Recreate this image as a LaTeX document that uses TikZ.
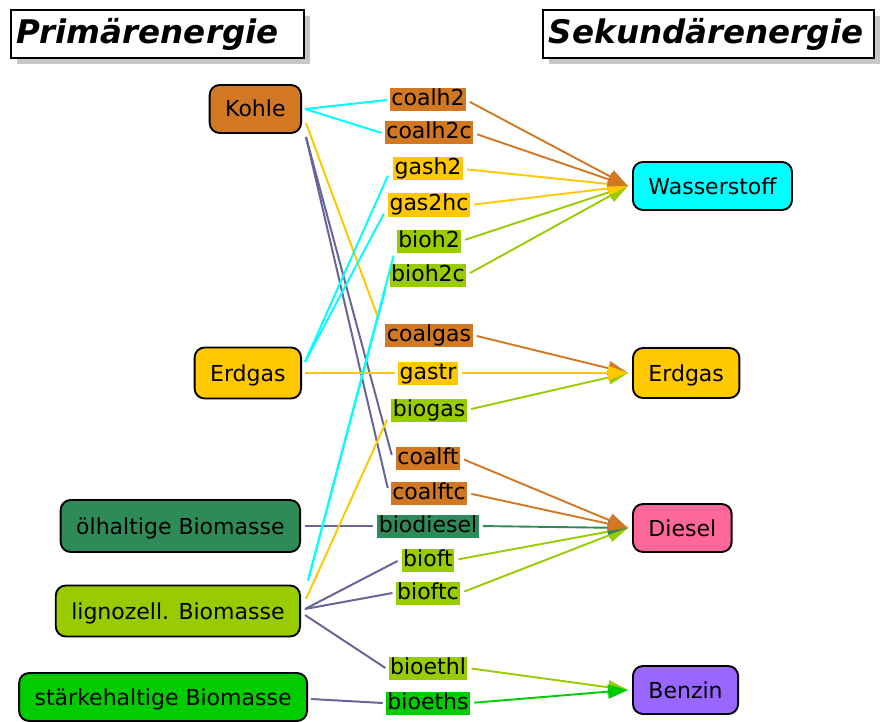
\documentclass[tikz,border=0pt]{standalone}
\usepackage{fontspec}
\setmainfont{DejaVu Sans}
\usetikzlibrary{arrows.meta,shadows}

% carrier colours
\definecolor{coal}{RGB}{210,119,34}
\definecolor{gas}{RGB}{255,200,0}
\definecolor{ligno}{RGB}{153,204,0}
\definecolor{oil}{RGB}{46,139,87}
\definecolor{starch}{RGB}{0,204,0}
\definecolor{hydro}{RGB}{0,255,255}
\definecolor{diesel}{RGB}{255,102,153}
\definecolor{petrol}{RGB}{153,102,255}
\definecolor{liquid}{RGB}{102,102,153}

\begin{document}
\begin{tikzpicture}[x=1pt,y=-1pt,
  carrier/.style={draw=black, line width=1.9pt, rounded corners=10pt,
    inner xsep=15.5pt, text height=18pt, text depth=2pt, minimum height=48pt,
    font=\fontsize{22}{26}\selectfont},
  proc/.style={inner xsep=1.5pt, inner ysep=1pt, text height=16.5pt, text depth=4.5pt,
    font=\fontsize{22}{26}\selectfont},
  feed/.style={line width=2pt},
  conv/.style={line width=1.9pt, shorten <=4pt, -{Triangle[length=20pt,width=14pt]}},
  heading/.style={draw=black, line width=1.9pt, fill=white, anchor=north west,
    font=\bfseries\itshape\fontsize{32.5}{38}\selectfont, minimum height=48pt,
    inner xsep=6pt, align=left, text height=23pt, text depth=4pt,
    drop shadow={shadow xshift=6pt, shadow yshift=-6pt, fill=black!22, opacity=1}}]

\useasboundingbox (0,0) rectangle (880,722);

% headings
\node[heading, text width=281pt] (hprim) at (10,9) {Primärenergie};
\node[heading, text width=319pt] (hsek) at (542,9) {Sekundärenergie};

% primary energy carriers
\node[carrier, fill=coal, anchor=east] (kohle) at (302,109) {Kohle};
\node[carrier, fill=gas, anchor=east, minimum height=51pt] (erdgasP) at (302,373) {Erdgas};
\node[carrier, fill=oil, anchor=east, minimum height=52pt] (oelbio) at (301,526) {ölhaltige Biomasse};
\node[carrier, fill=ligno, anchor=east, minimum height=51pt] (lignobio) at (301,611) {lignozell. Biomasse};
\node[carrier, fill=starch, anchor=east] (staerkebio) at (308,697) {stärkehaltige Biomasse};

% secondary energy carriers
\node[carrier, fill=hydro, anchor=west] (wasserstoff) at (632,186) {Wasserstoff};
\node[carrier, fill=gas, anchor=west, minimum height=50pt] (erdgasS) at (632,373) {Erdgas};
\node[carrier, fill=diesel, anchor=west] (dieselN) at (632,528) {Diesel};
\node[carrier, fill=petrol, anchor=west] (benzin) at (632,690) {Benzin};

% conversion processes
\node[proc, fill=coal]   (coalh2)    at (428,100) {coalh2};
\node[proc, fill=coal]   (coalh2c)   at (429,133) {coalh2c};
\node[proc, fill=gas]    (gash2)     at (428,169) {gash2};
\node[proc, fill=gas]    (gas2hc)    at (429,205) {gas2hc};
\node[proc, fill=ligno]  (bioh2)     at (429,241) {bioh2};
\node[proc, fill=ligno]  (bioh2c)    at (428,275) {bioh2c};
\node[proc, fill=coal]   (coalgas)   at (429,335) {coalgas};
\node[proc, fill=gas]    (gastr)     at (428,373) {gastr};
\node[proc, fill=ligno]  (biogas)    at (429,410) {biogas};
\node[proc, fill=coal]   (coalft)    at (428,458) {coalft};
\node[proc, fill=coal]   (coalftc)   at (429,493) {coalftc};
\node[proc, fill=oil]    (biodiesel) at (428,526) {biodiesel};
\node[proc, fill=ligno]  (bioft)     at (428,560) {bioft};
\node[proc, fill=ligno]  (bioftc)    at (428,593) {bioftc};
\node[proc, fill=ligno]  (bioethl)   at (428,668) {bioethl};
\node[proc, fill=starch] (bioeths)   at (428,703) {bioeths};

% feedstock links: primary carrier -> process
\draw[feed, hydro] ([xshift=3pt]kohle.east) -- ([xshift=-3pt]coalh2.west);
\draw[feed, hydro] ([xshift=3pt]kohle.east) -- ([xshift=-3pt]coalh2c.west);
\draw[feed, gas] ([xshift=4pt,yshift=-14pt]kohle.east) -- ([xshift=-7pt,yshift=5pt]coalgas.north west);
\draw[feed, liquid] ([xshift=4pt,yshift=-28pt]kohle.east) -- ([xshift=-4pt,yshift=3pt]coalft.west);
\draw[feed, liquid] ([xshift=4pt,yshift=-28pt]kohle.east) -- ([xshift=-3pt,yshift=5pt]coalftc.west);

\draw[feed, hydro] ([xshift=3pt,yshift=11pt]erdgasP.east) -- ([xshift=-5pt,yshift=5pt]gash2.south west);
\draw[feed, hydro] ([xshift=3pt,yshift=11pt]erdgasP.east) -- ([xshift=-4pt,yshift=3pt]gas2hc.south west);
\draw[feed, gas] ([xshift=3pt]erdgasP.east) -- ([xshift=-3pt]gastr.west);

\draw[feed, liquid] ([xshift=4pt]oelbio.east) -- ([xshift=-4pt]biodiesel.west);

\draw[feed, hydro] ([xshift=7pt,yshift=4pt]lignobio.north east) -- ([xshift=-3pt,yshift=-3pt]bioh2.south west);
\draw[feed, hydro] ([xshift=7pt,yshift=4pt]lignobio.north east) -- ([xshift=-4pt,yshift=-2pt]bioh2c.south west);
\draw[feed, gas] ([xshift=5pt,yshift=12pt]lignobio.east) -- ([xshift=-4pt,yshift=2pt]biogas.south west);
\draw[feed, liquid] ([xshift=4pt,yshift=2pt]lignobio.east) -- ([xshift=-4pt,yshift=-1pt]bioft.west);
\draw[feed, liquid] ([xshift=4pt,yshift=2pt]lignobio.east) -- ([xshift=-3pt]bioftc.west);
\draw[feed, liquid] ([xshift=4pt,yshift=-4pt]lignobio.east) -- ([xshift=-3pt]bioethl.west);

\draw[feed, liquid] ([xshift=3pt,yshift=-2pt]staerkebio.east) -- ([xshift=-3pt]bioeths.west);

% conversion links: process -> secondary carrier
\draw[conv, ligno] (bioh2c.east) -- ([xshift=-4pt]wasserstoff.west);
\draw[conv, ligno] (bioh2.east) -- ([xshift=-4pt]wasserstoff.west);
\draw[conv, gas] (gas2hc.east) -- ([xshift=-4pt]wasserstoff.west);
\draw[conv, gas] (gash2.east) -- ([xshift=-4pt]wasserstoff.west);
\draw[conv, coal] (coalh2c.east) -- ([xshift=-4pt]wasserstoff.west);
\draw[conv, coal] (coalh2.east) -- ([xshift=-4pt]wasserstoff.west);

\draw[conv, ligno] (biogas.east) -- ([xshift=-4pt]erdgasS.west);
\draw[conv, coal] (coalgas.east) -- ([xshift=-4pt]erdgasS.west);
\draw[conv, gas] (gastr.east) -- ([xshift=-4pt]erdgasS.west);

\draw[conv, ligno] (bioftc.east) -- ([xshift=-4pt]dieselN.west);
\draw[conv, ligno] (bioft.east) -- ([xshift=-4pt]dieselN.west);
\draw[conv, oil] (biodiesel.east) -- ([xshift=-4pt]dieselN.west);
\draw[conv, coal] (coalftc.east) -- ([xshift=-4pt]dieselN.west);
\draw[conv, coal] (coalft.east) -- ([xshift=-4pt]dieselN.west);

\draw[conv, ligno] (bioethl.east) -- ([xshift=-4pt]benzin.west);
\draw[conv, starch] (bioeths.east) -- ([xshift=-4pt]benzin.west);

\end{tikzpicture}
\end{document}
